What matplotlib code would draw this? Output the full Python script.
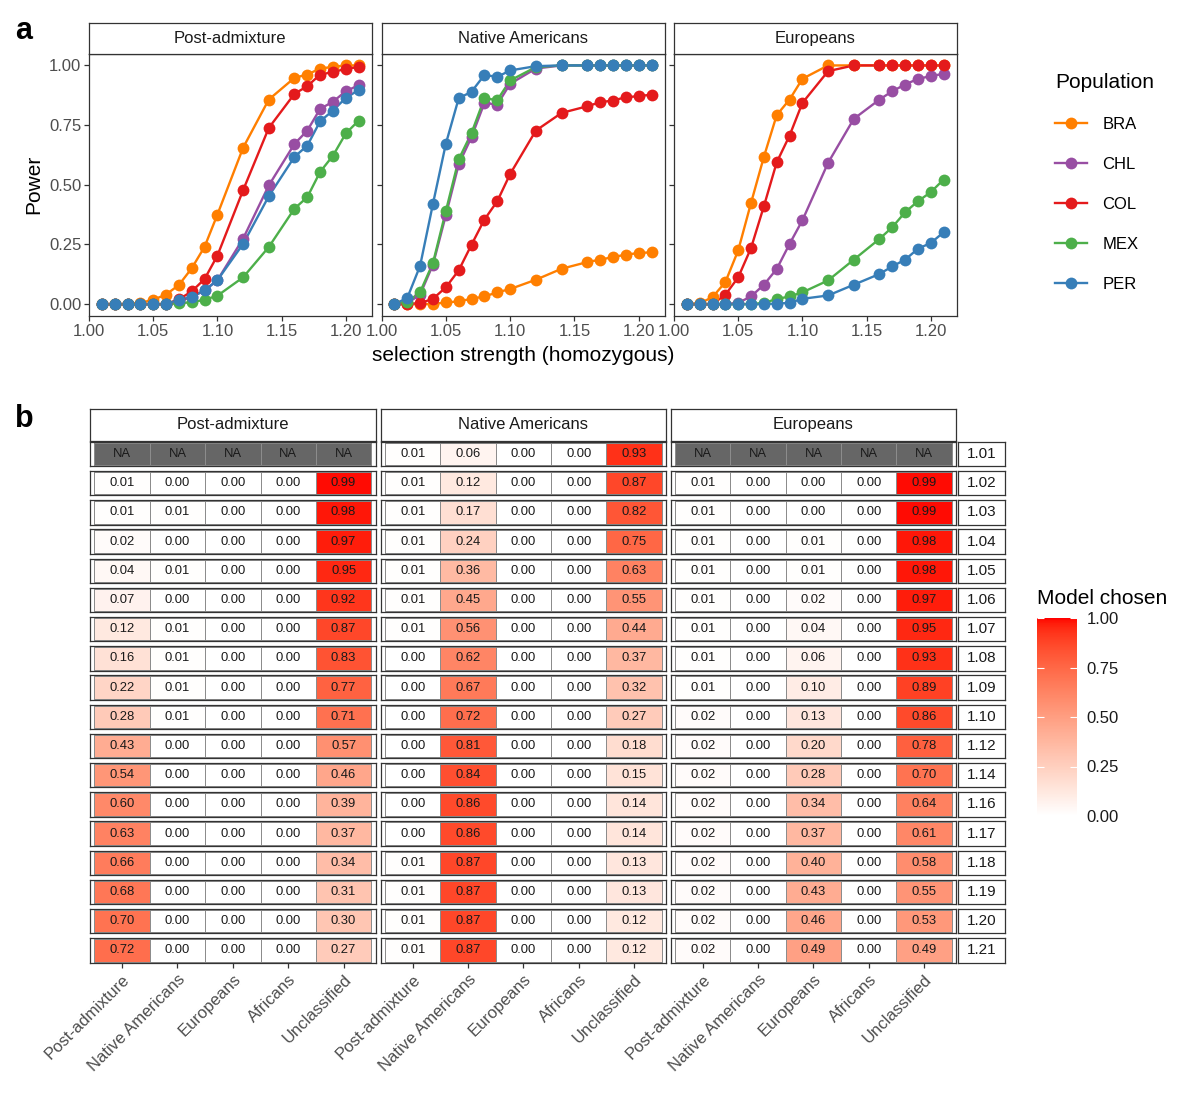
import numpy as np
import matplotlib
matplotlib.use('Agg')
import matplotlib.pyplot as plt
from matplotlib.colors import ListedColormap, Normalize
from matplotlib.lines import Line2D
import matplotlib.cm as cm

plt.rcParams['font.family'] = ['Liberation Sans', 'DejaVu Sans']

# ---- data -------------------------------------------------------------
strength = [1.01, 1.02, 1.03, 1.04, 1.05, 1.06, 1.07, 1.08, 1.09, 1.10,
            1.12, 1.14, 1.16, 1.17, 1.18, 1.19, 1.20, 1.21]
scenarios = ['Post-admixture', 'Native Americans', 'Europeans']
populations = ['BRA', 'CHL', 'COL', 'MEX', 'PER']
pop_colors = ['#FF7F00', '#984EA3', '#E41A1C', '#4DAF4A', '#377EB8']

power_post = {
    'BRA': [0, 0, 0, 0.005, 0.018, 0.04, 0.08, 0.15, 0.24, 0.375, 0.655, 0.857, 0.948, 0.962, 0.987, 0.994, 1.0, 1.0],
    'CHL': [0, 0, 0, 0, 0, 0, 0.01, 0.03, 0.057, 0.10, 0.274, 0.497, 0.671, 0.727, 0.818, 0.848, 0.892, 0.917],
    'COL': [0, 0, 0, 0, 0, 0, 0.02, 0.053, 0.105, 0.203, 0.477, 0.738, 0.881, 0.913, 0.962, 0.972, 0.986, 0.993],
    'MEX': [0, 0, 0, 0, 0, 0, 0.003, 0.008, 0.018, 0.035, 0.112, 0.239, 0.40, 0.448, 0.554, 0.622, 0.715, 0.769],
    'PER': [0, 0, 0, 0, 0, 0, 0.018, 0.03, 0.057, 0.10, 0.252, 0.452, 0.617, 0.664, 0.766, 0.811, 0.864, 0.897],
}
power_nat = {
    'BRA': [0, 0, 0, 0, 0.007, 0.011, 0.022, 0.032, 0.049, 0.063, 0.102, 0.148, 0.176, 0.186, 0.197, 0.207, 0.214, 0.217],
    'CHL': [0, 0.003, 0.04, 0.165, 0.372, 0.585, 0.70, 0.843, 0.836, 0.923, 0.987, 1, 1, 1, 1, 1, 1, 1],
    'COL': [0, 0, 0.004, 0.022, 0.07, 0.141, 0.249, 0.354, 0.431, 0.545, 0.727, 0.801, 0.829, 0.846, 0.853, 0.867, 0.871, 0.878],
    'MEX': [0, 0.008, 0.05, 0.172, 0.389, 0.606, 0.717, 0.862, 0.855, 0.937, 0.993, 1, 1, 1, 1, 1, 1, 1],
    'PER': [0, 0.025, 0.16, 0.42, 0.671, 0.862, 0.89, 0.96, 0.952, 0.979, 0.997, 1, 1, 1, 1, 1, 1, 1],
}
power_eur = {
    'BRA': [0, 0.003, 0.029, 0.092, 0.225, 0.424, 0.617, 0.792, 0.857, 0.944, 1, 1, 1, 1, 1, 1, 1, 1],
    'CHL': [0, 0, 0, 0, 0.005, 0.032, 0.081, 0.147, 0.252, 0.351, 0.592, 0.776, 0.857, 0.892, 0.92, 0.944, 0.955, 0.965],
    'COL': [0, 0, 0, 0.039, 0.112, 0.235, 0.41, 0.594, 0.706, 0.843, 0.976, 1, 1, 1, 1, 1, 1, 1],
    'MEX': [0, 0, 0, 0, 0, 0, 0.005, 0.021, 0.032, 0.049, 0.099, 0.186, 0.273, 0.322, 0.385, 0.431, 0.469, 0.522],
    'PER': [0, 0, 0, 0, 0, 0, 0, 0.002, 0.005, 0.022, 0.036, 0.081, 0.126, 0.158, 0.186, 0.232, 0.256, 0.301],
}
power = [power_post, power_nat, power_eur]

models = ['Post-admixture', 'Native Americans', 'Europeans', 'Africans', 'Unclassified']
NA5 = [None] * 5
chosen_post = [NA5,
    [0.01, 0.00, 0.00, 0.00, 0.99], [0.01, 0.01, 0.00, 0.00, 0.98], [0.02, 0.00, 0.00, 0.00, 0.97],
    [0.04, 0.01, 0.00, 0.00, 0.95], [0.07, 0.00, 0.00, 0.00, 0.92], [0.12, 0.01, 0.00, 0.00, 0.87],
    [0.16, 0.01, 0.00, 0.00, 0.83], [0.22, 0.01, 0.00, 0.00, 0.77], [0.28, 0.01, 0.00, 0.00, 0.71],
    [0.43, 0.00, 0.00, 0.00, 0.57], [0.54, 0.00, 0.00, 0.00, 0.46], [0.60, 0.00, 0.00, 0.00, 0.39],
    [0.63, 0.00, 0.00, 0.00, 0.37], [0.66, 0.00, 0.00, 0.00, 0.34], [0.68, 0.00, 0.00, 0.00, 0.31],
    [0.70, 0.00, 0.00, 0.00, 0.30], [0.72, 0.00, 0.00, 0.00, 0.27]]
chosen_nat = [
    [0.01, 0.06, 0.00, 0.00, 0.93], [0.01, 0.12, 0.00, 0.00, 0.87], [0.01, 0.17, 0.00, 0.00, 0.82],
    [0.01, 0.24, 0.00, 0.00, 0.75], [0.01, 0.36, 0.00, 0.00, 0.63], [0.01, 0.45, 0.00, 0.00, 0.55],
    [0.01, 0.56, 0.00, 0.00, 0.44], [0.00, 0.62, 0.00, 0.00, 0.37], [0.00, 0.67, 0.00, 0.00, 0.32],
    [0.00, 0.72, 0.00, 0.00, 0.27], [0.00, 0.81, 0.00, 0.00, 0.18], [0.00, 0.84, 0.00, 0.00, 0.15],
    [0.00, 0.86, 0.00, 0.00, 0.14], [0.00, 0.86, 0.00, 0.00, 0.14], [0.01, 0.87, 0.00, 0.00, 0.13],
    [0.01, 0.87, 0.00, 0.00, 0.13], [0.01, 0.87, 0.00, 0.00, 0.12], [0.01, 0.87, 0.00, 0.00, 0.12]]
chosen_eur = [NA5,
    [0.01, 0.00, 0.00, 0.00, 0.99], [0.01, 0.00, 0.00, 0.00, 0.99], [0.01, 0.00, 0.01, 0.00, 0.98],
    [0.01, 0.00, 0.01, 0.00, 0.98], [0.01, 0.00, 0.02, 0.00, 0.97], [0.01, 0.00, 0.04, 0.00, 0.95],
    [0.01, 0.00, 0.06, 0.00, 0.93], [0.01, 0.00, 0.10, 0.00, 0.89], [0.02, 0.00, 0.13, 0.00, 0.86],
    [0.02, 0.00, 0.20, 0.00, 0.78], [0.02, 0.00, 0.28, 0.00, 0.70], [0.02, 0.00, 0.34, 0.00, 0.64],
    [0.02, 0.00, 0.37, 0.00, 0.61], [0.02, 0.00, 0.40, 0.00, 0.58], [0.02, 0.00, 0.43, 0.00, 0.55],
    [0.02, 0.00, 0.46, 0.00, 0.53], [0.02, 0.00, 0.49, 0.00, 0.49]]
chosen = [chosen_post, chosen_nat, chosen_eur]

# ---- white -> red gradient in Lab space (like scale_fill_gradient) ----
M = np.array([[0.4124, 0.3576, 0.1805], [0.2126, 0.7152, 0.0722], [0.0193, 0.1192, 0.9505]])
WHITE = np.array([0.95047, 1.0, 1.08883])
d = 6 / 29


def to_lab(rgb):
    c = np.asarray(rgb, float)
    lin = np.where(c <= 0.04045, c / 12.92, ((c + 0.055) / 1.055) ** 2.4)
    xyz = M @ lin / WHITE
    f = np.where(xyz > d ** 3, np.cbrt(xyz), xyz / (3 * d * d) + 4 / 29)
    return np.array([116 * f[1] - 16, 500 * (f[0] - f[1]), 200 * (f[1] - f[2])])


def from_lab(lab):
    fy = (lab[0] + 16) / 116
    f = np.array([fy + lab[1] / 500, fy, fy - lab[2] / 200])
    xyz = np.where(f > d, f ** 3, 3 * d * d * (f - 4 / 29)) * WHITE
    lin = np.clip(np.linalg.inv(M) @ xyz, 0, 1)
    c = np.where(lin <= 0.0031308, 12.92 * lin, 1.055 * lin ** (1 / 2.4) - 0.055)
    return np.clip(c, 0, 1)


lo, hi = to_lab([1, 1, 1]), to_lab([1, 0, 0])
cmap = ListedColormap([from_lab(lo + t * (hi - lo)) for t in np.linspace(0, 1, 256)])
cmap.set_bad('#666666')

# ---- figure ------------------------------------------------------------
W, H = 1200, 1114
fig = plt.figure(figsize=(W / 100, H / 100), dpi=100)


def box(x0, y0, x1, y1):
    return [x0 / W, 1 - y1 / H, (x1 - x0) / W, (y1 - y0) / H]


def strip(rect, text, size=12):
    s = fig.add_axes(rect)
    s.set_xticks([])
    s.set_yticks([])
    for sp in s.spines.values():
        sp.set_color('#333333')
        sp.set_linewidth(0.9)
    s.text(0.5, 0.5, text, ha='center', va='center', fontsize=size, color='#1A1A1A',
           transform=s.transAxes)
    return s


# panel a
pa_cols = [(89, 371.5), (381.5, 664.5), (674, 956.5)]
for k, (x0, x1) in enumerate(pa_cols):
    ax = fig.add_axes(box(x0, 53.5, x1, 316))
    strip(box(x0, 23, x1, 53.5), scenarios[k])
    for p, c in zip(populations, pop_colors):
        ax.plot(strength, power[k][p], color=c, lw=1.7, zorder=2)
    for p, c in zip(populations, pop_colors):
        ax.plot(strength, power[k][p], 'o', color=c, ms=8.5, mew=0, zorder=3)
    ax.set_xlim(1.0, 1.22)
    ax.set_ylim(-0.05, 1.05)
    ax.set_xticks([1.00, 1.05, 1.10, 1.15, 1.20])
    ax.set_xticklabels(['1.00', '1.05', '1.10', '1.15', '1.20'])
    ax.set_yticks([0, 0.25, 0.5, 0.75, 1.0])
    if k == 0:
        ax.set_yticklabels(['0.00', '0.25', '0.50', '0.75', '1.00'])
        ax.set_ylabel('Power', fontsize=15, labelpad=4)
    else:
        ax.tick_params(axis='y', length=0, labelleft=False)
    if k == 1:
        ax.set_xlabel('selection strength (homozygous)', fontsize=15, labelpad=5)
    ax.tick_params(length=3.5, width=0.9, color='#333333', labelsize=12,
                   labelcolor='#4D4D4D', pad=2)
    for sp in ax.spines.values():
        sp.set_color('#333333')
        sp.set_linewidth(0.9)

handles = [Line2D([], [], color=c, lw=1.7, marker='o', ms=8.5, mew=0) for c in pop_colors]
fig.legend(handles, populations, loc='upper left', bbox_to_anchor=(1055 / W, 1 - 73 / H),
           frameon=False, title='Population', title_fontsize=15, fontsize=12,
           alignment='left', borderpad=0, borderaxespad=0, handlelength=1.9,
           handletextpad=0.95, labelspacing=1.5)

# panel b
hm_cols = [(90, 375.7), (380.7, 666.2), (670.6, 956.2)]
row_top0, pitch, row_h = 441.7, 29.2, 24.5
for k, (x0, x1) in enumerate(hm_cols):
    strip(box(x0, 409, x1, 440.5), scenarios[k])
    for i, s in enumerate(strength):
        top = row_top0 + i * pitch
        ax = fig.add_axes(box(x0, top, x1, top + row_h))
        vals = np.ma.masked_invalid(np.array(chosen[k][i], dtype=float))
        ax.pcolormesh(np.arange(0.5, 6.0), [-0.5, 0.5], vals[np.newaxis, :], cmap=cmap,
                      vmin=0, vmax=1, edgecolors='#8C8C8C', linewidth=0.7)
        for j, v in enumerate(chosen[k][i]):
            ax.text(j + 1, 0, 'NA' if v is None else f'{v:.2f}', ha='center', va='center',
                    fontsize=9.4, color='#1A1A1A')
        ax.set_xlim(0.42, 5.58)
        ax.set_ylim(-0.545, 0.545)
        ax.set_yticks([])
        for sp in ax.spines.values():
            sp.set_color('#333333')
            sp.set_linewidth(0.9)
        if i == len(strength) - 1:
            ax.set_xticks(range(1, 6))
            ax.set_xticklabels(models, rotation=45, ha='right', rotation_mode='anchor',
                               fontsize=12, color='#4D4D4D')
            ax.tick_params(axis='x', length=3.5, width=0.9, color='#333333', pad=3)
        else:
            ax.set_xticks([])
        if k == 2:
            strip(box(957.5, top, 1005, top + row_h), f'{s:.2f}', size=11)

cax = fig.add_axes(box(1037, 618, 1077, 816))
cb = fig.colorbar(cm.ScalarMappable(norm=Normalize(0, 1), cmap=cmap), cax=cax)
cb.outline.set_visible(False)
cb.set_ticks([0, 0.25, 0.5, 0.75, 1.0])
cb.set_ticklabels(['0.00', '0.25', '0.50', '0.75', '1.00'])
cax.yaxis.set_ticks_position('both')
cax.tick_params(direction='in', length=5, width=0.8, color='white', labelsize=12,
                labelcolor='#1A1A1A', labelleft=False, labelright=True, pad=7)
fig.text(1037 / W, 1 - 598 / H, 'Model chosen', fontsize=15, va='center', ha='left')

fig.text(15 / W, 1 - 31 / H, 'a', fontsize=22, fontweight='bold', va='center')
fig.text(15 / W, 1 - 419 / H, 'b', fontsize=22, fontweight='bold', va='center')

fig.savefig('out.png', dpi=100)
